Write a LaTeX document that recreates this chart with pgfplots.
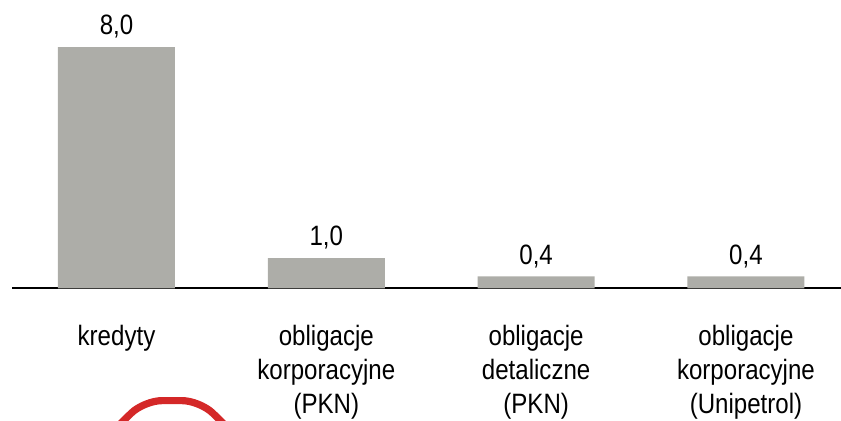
\documentclass[border=0pt]{standalone}
\usepackage{fontspec}
\setmainfont{Liberation Sans}[FakeStretch=0.86]
\usepackage{pgfplots}
\pgfplotsset{compat=1.18}
\definecolor{bargray}{RGB}{173,173,168}
\definecolor{logored}{RGB}{212,40,40}

\begin{document}
\begin{tikzpicture}
    % decorative red outline, cut off at the bottom edge
    \draw[logored, line width=3.6pt, rounded corners=9pt]
        (56pt,-216pt) -- (72pt,-200.3pt) -- (100pt,-200.3pt) -- (116pt,-216pt);
    \begin{axis}[
        at={(6pt,-144.15pt)},
        anchor=south west,
        scale only axis,
        width=414.5pt,
        height=144.15pt,
        ybar,
        bar width=58.5pt,
        xmin=-0.498, xmax=3.453,
        ymin=0, ymax=9.56,
        axis x line*=bottom,
        hide y axis,
        axis line style={black, line width=1pt},
        xtick={0,1,2,3},
        xticklabels={kredyty,
            {obligacje\\korporacyjne\\(PKN)},
            {obligacje\\detaliczne\\(PKN)},
            {obligacje\\korporacyjne\\(Unipetrol)}},
        major tick length=0pt,
        tick style={draw=none},
        xticklabel style={align=center, anchor=north, inner sep=0pt,
            yshift=-18.2pt, font=\fontsize{14pt}{17pt}\selectfont},
        /pgf/number format/assume math mode=true,
        /pgf/number format/.cd, fixed, fixed zerofill, precision=1, use comma,
        /pgfplots/.cd,
        nodes near coords,
        every node near coord/.append style={font=\fontsize{14pt}{16pt}\selectfont,
            anchor=base, inner sep=0pt, yshift=6.1pt},
        clip=false,
    ]
        \addplot[fill=bargray, draw=none] coordinates {
            (0,8.0)
            (1,1.0)
            (2,0.4)
            (3,0.4)
        };
    \end{axis}
    \pgfresetboundingbox
    \useasboundingbox (0pt,0pt) rectangle (420.5pt,-210pt);
\end{tikzpicture}
\end{document}
